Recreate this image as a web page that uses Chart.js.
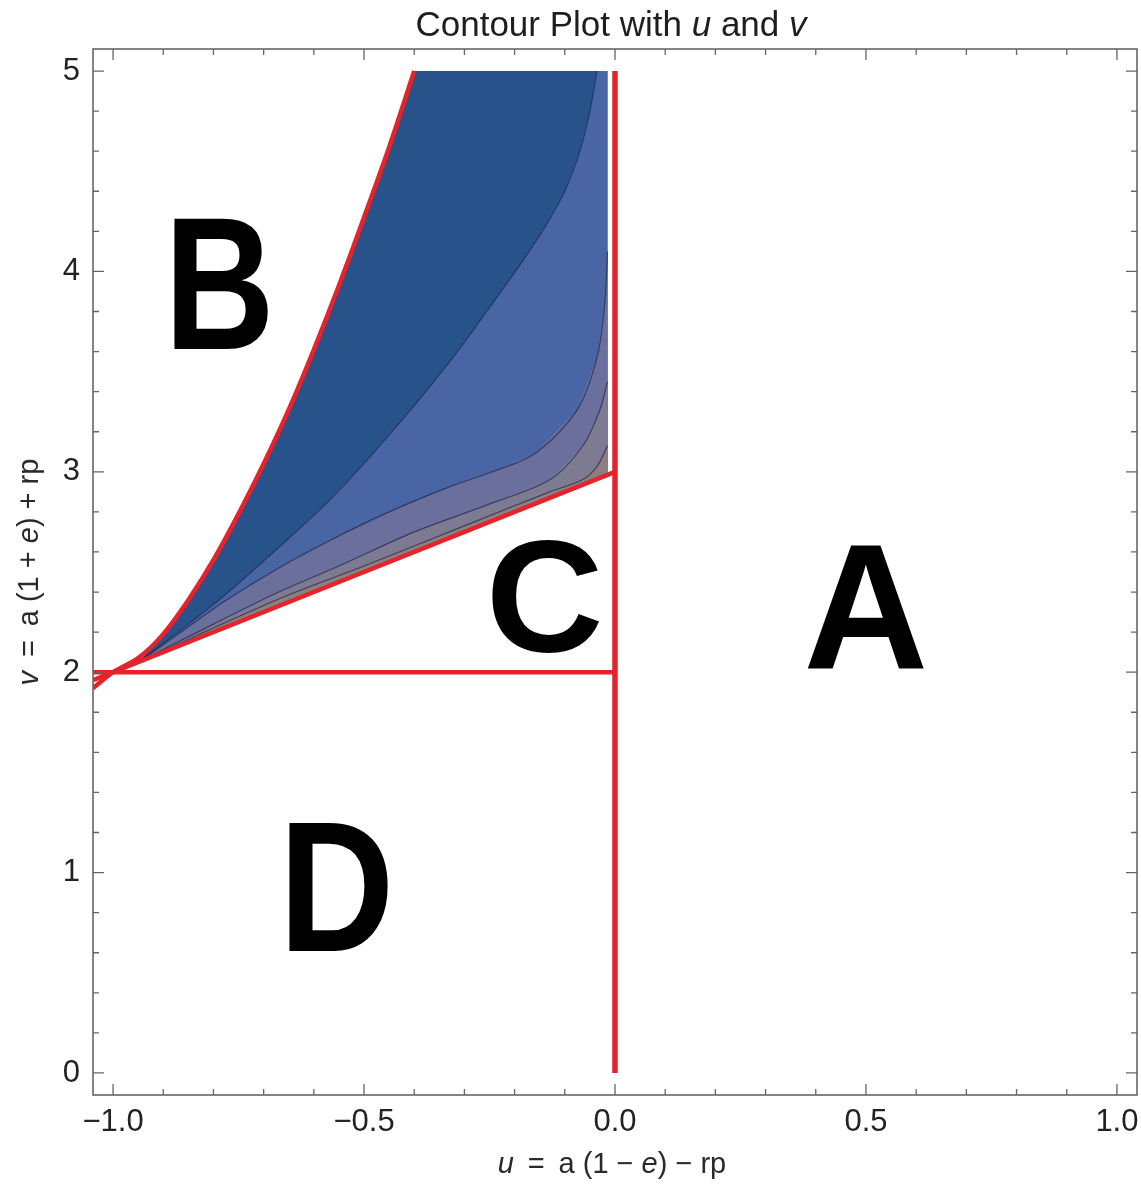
<!DOCTYPE html>
<html>
<head>
<meta charset="utf-8">
<title>Contour Plot with u and v</title>
<script src="https://cdn.jsdelivr.net/npm/chart.js@4.4.1/dist/chart.umd.min.js"></script>
<style>
  html, body { margin: 0; padding: 0; background: #fff; }
  #wrap { position: relative; width: 1141px; height: 1200px; }
</style>
</head>
<body>
<div id="wrap"><canvas id="plot"></canvas></div>
<script>
// Axis ticks
const xTicks = [-1.0, -0.5, 0.0, 0.5, 1.0];
const xTickLabels = ['\u22121.0', '\u22120.5', '0.0', '0.5', '1.0'];
const xMinorTicks = [-1.0, -0.9, -0.8, -0.7, -0.6, -0.5, -0.4, -0.3, -0.2, -0.1, 0.0,
                     0.1, 0.2, 0.3, 0.4, 0.5, 0.6, 0.7, 0.8, 0.9, 1.0];
const yTicks = [0, 1, 2, 3, 4, 5];
const yTickLabels = ['0', '1', '2', '3', '4', '5'];
const yMinorTicks = [0, 0.2, 0.4, 0.6, 0.8, 1, 1.2, 1.4, 1.6, 1.8, 2, 2.2, 2.4, 2.6, 2.8,
                     3, 3.2, 3.4, 3.6, 3.8, 4, 4.2, 4.4, 4.6, 4.8, 5];

// Red boundaries
const lineAU = [0, 0];
const lineAV = [0, 5];
const lineDU = [-1.04, 0];
const lineDV = [2, 2];
const lineCU = [-1.04, 0];
const lineCV = [1.96, 3.0];
const curveBU = [-1.04, -1.0, -0.95, -0.9, -0.85, -0.8, -0.75, -0.7, -0.65, -0.6, -0.55, -0.5, -0.45, -0.4];
const curveBV = [1.92, 2.0, 2.07, 2.19, 2.36, 2.56, 2.79, 3.04, 3.31, 3.61, 3.93, 4.27, 4.62, 5.0];

// Contour boundaries inside the shaded wedge (top/right end first, tip last)
const c1U = [-0.036, -0.05, -0.07, -0.1, -0.14, -0.19, -0.25, -0.32, -0.4, -0.49, -0.58, -0.68, -0.77, -0.86, -0.95];
const c1V = [5.0, 4.8, 4.6, 4.4, 4.22, 4.03, 3.82, 3.58, 3.33, 3.07, 2.83, 2.6, 2.4, 2.22, 2.05];
const c2U = [-0.015, -0.02, -0.035, -0.075, -0.16, -0.25, -0.33, -0.45, -0.57, -0.67, -0.78, -0.87, -0.95];
const c2V = [4.1, 3.85, 3.58, 3.31, 3.09, 2.995, 2.925, 2.8, 2.655, 2.52, 2.35, 2.19, 2.05];
const c3U = [-0.015, -0.03, -0.064, -0.13, -0.26, -0.4, -0.55, -0.67, -0.8, -0.95];
const c3V = [3.45, 3.31, 3.13, 2.96, 2.83, 2.7, 2.53, 2.4, 2.24, 2.05];
const c4U = [-0.015, -0.035, -0.065, -0.13, -0.3, -0.5, -0.67, -0.95];
const c4V = [3.13, 3.03, 2.96, 2.9, 2.73, 2.53, 2.365, 2.05];

// shaded wedge corners
const wedgeRightU = -0.015;
const wedgeTopV = 5.0;
const wedgeBottomRightV = 2.985;
const wedgeTip = { x: -0.95, y: 2.05 };

// Region letters
const regionLetters = ['A', 'B', 'C', 'D'];
const regionLetterU = [0.5, -0.788, -0.14, -0.555];
const regionLetterV = [2.34, 3.95, 2.39, 0.94];

const FONT = '"Liberation Sans", Arial, sans-serif';
const RED = '#e6222a';
const CONTOUR = 'rgba(28, 38, 78, 0.7)';
// font size and horizontal squeeze of each big letter
const letterLook = {
    A: { size: 178, sx: 0.97 },
    B: { size: 190, sx: 0.805 },
    C: { size: 160, sx: 1.02 },
    D: { size: 186, sx: 0.86 }
};

const toPts = (us, vs) => us.map((u, i) => ({ x: u, y: vs[i] }));

const darkRegion = [wedgeTip]
    .concat(toPts(curveBU, curveBV).filter(p => p.x > wedgeTip.x))
    .concat([{ x: wedgeRightU, y: wedgeTopV }, { x: wedgeRightU, y: wedgeBottomRightV }]);

const bandRegion = (us, vs) => toPts(us, vs).concat([
    { x: wedgeRightU, y: wedgeBottomRightV },
    { x: wedgeRightU, y: vs[0] }
]);

const redLine = (label, us, vs, width) => ({
    label: label, data: toPts(us, vs), showLine: true, fill: false,
    borderColor: RED, borderWidth: width, pointRadius: 0, tension: 0.3
});
const contourLine = (label, us, vs) => ({
    label: label, data: toPts(us, vs), showLine: true, fill: false,
    borderColor: CONTOUR, borderWidth: 1.2, pointRadius: 0, tension: 0.3
});
const region = (label, pts, color) => ({
    label: label, data: pts, showLine: true, fill: 'shape',
    backgroundColor: color, borderWidth: 0, borderColor: 'rgba(0,0,0,0)', pointRadius: 0, tension: 0
});

// frame with inward ticks, Mathematica style
const frameTicks = {
    id: 'frameTicks',
    afterDatasetsDraw(chart) {
        const { ctx, chartArea: a, scales: { x, y } } = chart;
        ctx.save();
        ctx.strokeStyle = '#666';
        ctx.lineWidth = 1.6;
        ctx.strokeRect(a.left, a.top, a.right - a.left, a.bottom - a.top);
        ctx.lineWidth = 1.3;
        ctx.beginPath();
        xMinorTicks.forEach(v => {
            const px = x.getPixelForValue(v);
            const len = xTicks.includes(v) ? 11 : 6;
            ctx.moveTo(px, a.bottom); ctx.lineTo(px, a.bottom - len);
            ctx.moveTo(px, a.top); ctx.lineTo(px, a.top + len);
        });
        yMinorTicks.forEach(v => {
            const py = y.getPixelForValue(v);
            const len = yTicks.includes(v) ? 11 : 6;
            ctx.moveTo(a.left, py); ctx.lineTo(a.left + len, py);
            ctx.moveTo(a.right, py); ctx.lineTo(a.right - len, py);
        });
        ctx.stroke();
        ctx.restore();
    }
};

// text made of plain / italic pieces
function drawRuns(ctx, runs, size, cx, cy, color) {
    const fontFor = it => (it ? 'italic ' : '') + size + 'px ' + FONT;
    let total = 0;
    const widths = runs.map(r => {
        ctx.font = fontFor(r[1]);
        const w = ctx.measureText(r[0]).width;
        total += w;
        return w;
    });
    let xx = cx - total / 2;
    ctx.fillStyle = color;
    ctx.textAlign = 'left';
    ctx.textBaseline = 'middle';
    runs.forEach((r, i) => {
        ctx.font = fontFor(r[1]);
        ctx.fillText(r[0], xx, cy);
        xx += widths[i];
    });
}

const titles = {
    id: 'titles',
    afterDraw(chart) {
        const { ctx, chartArea: a } = chart;
        const cx = (a.left + a.right) / 2;
        const cy = (a.top + a.bottom) / 2;
        ctx.save();
        drawRuns(ctx, [['Contour Plot with ', false], ['u', true], [' and ', false], ['v', true]], 35, cx - 4, 26, '#1e1e1e');
        drawRuns(ctx, [['u', true], ['\u2009 = \u2009a (1 \u2212 ', false], ['e', true], [') \u2212 rp', false]], 29, cx - 3, 1165, '#2a2a2a');
        ctx.translate(30, cy);
        ctx.rotate(-Math.PI / 2);
        drawRuns(ctx, [['v', true], ['\u2009 = \u2009a (1 + ', false], ['e', true], [') + rp', false]], 29, 0, 0, '#2a2a2a');
        ctx.restore();
    }
};

const letters = {
    id: 'letters',
    afterDatasetsDraw(chart) {
        const { ctx, scales: { x, y } } = chart;
        ctx.save();
        ctx.fillStyle = '#000';
        ctx.textAlign = 'center';
        ctx.textBaseline = 'alphabetic';
        regionLetters.forEach((t, i) => {
            const look = letterLook[t];
            ctx.save();
            ctx.font = 'bold ' + look.size + 'px ' + FONT;
            ctx.translate(x.getPixelForValue(regionLetterU[i]), y.getPixelForValue(regionLetterV[i]));
            ctx.scale(look.sx, 1);
            ctx.fillText(t, 0, look.size * 0.358);
            ctx.restore();
        });
        ctx.restore();
    }
};

new Chart(document.getElementById('plot'), {
    type: 'scatter',
    data: {
        datasets: [
            redLine('u = 0', lineAU, lineAV, 5.5),
            redLine('v = 2', lineDU, lineDV, 4.5),
            redLine('C upper', lineCU, lineCV, 4.5),
            redLine('B boundary', curveBU, curveBV, 4.5),
            contourLine('contour 1', c1U, c1V),
            contourLine('contour 2', c2U, c2V),
            contourLine('contour 3', c3U, c3V),
            contourLine('contour 4', c4U, c4V),
            region('level 5', bandRegion(c4U, c4V), '#8d7f7e'),
            region('level 4', bandRegion(c3U, c3V), '#7d7a91'),
            region('level 3', bandRegion(c2U, c2V), '#6a709b'),
            region('level 2', bandRegion(c1U, c1V), '#4a65a4'),
            region('level 1', darkRegion, '#27538a')
        ]
    },
    options: {
        responsive: true,
        maintainAspectRatio: false,
        animation: false,
        layout: { padding: { top: 49, right: 4, left: 0, bottom: 0 } },
        plugins: {
            legend: { display: false },
            tooltip: { enabled: false }
        },
        elements: { point: { radius: 0, hoverRadius: 0 } },
        scales: {
            x: {
                type: 'linear', min: -1.04, max: 1.04,
                afterFit: s => { s.height = 105; s.paddingLeft = 0; s.paddingRight = 0; },
                afterBuildTicks: s => { s.ticks = xTicks.map(v => ({ value: v })); },
                grid: { display: false, drawTicks: false },
                border: { display: false },
                ticks: {
                    callback: (v, i) => xTickLabels[i],
                    font: { size: 31, family: FONT }, color: '#222',
                    padding: 9, maxRotation: 0, autoSkip: false
                }
            },
            y: {
                type: 'linear', min: -0.11, max: 5.11,
                afterFit: s => { s.width = 93; s.paddingTop = 0; s.paddingBottom = 0; },
                afterBuildTicks: s => { s.ticks = yTicks.map(v => ({ value: v })); },
                grid: { display: false, drawTicks: false },
                border: { display: false },
                ticks: {
                    callback: (v, i) => yTickLabels[i],
                    font: { size: 31, family: FONT }, color: '#222',
                    padding: 13, autoSkip: false
                }
            }
        }
    },
    plugins: [frameTicks, letters, titles]
});
</script>
</body>
</html>
